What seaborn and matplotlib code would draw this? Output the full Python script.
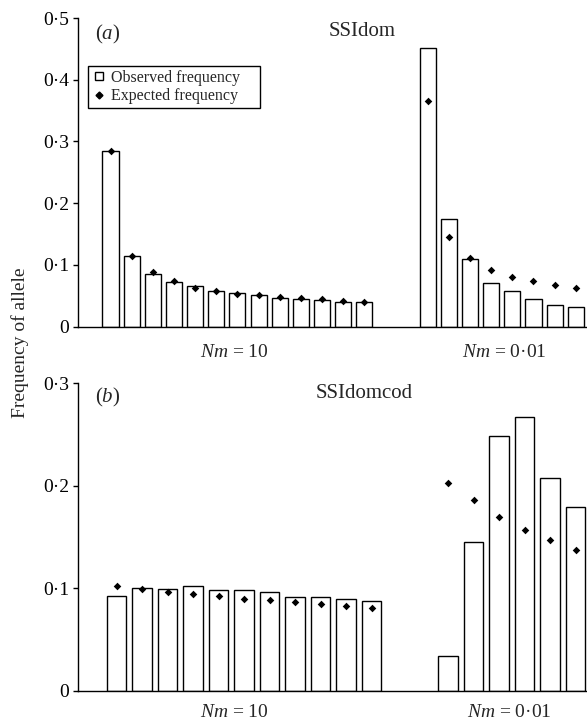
import numpy as np
import pandas as pd
import matplotlib
matplotlib.use("Agg")
import matplotlib.pyplot as plt
from matplotlib.lines import Line2D
import seaborn as sns

# (a) SSIdom
a_obs_nm10 = [0.285, 0.115, 0.085, 0.072, 0.065, 0.058, 0.054, 0.051, 0.047, 0.044, 0.043, 0.040, 0.040]
a_exp_nm10 = [0.284, 0.115, 0.088, 0.074, 0.062, 0.057, 0.053, 0.051, 0.048, 0.046, 0.044, 0.041, 0.040]
a_obs_nm001 = [0.452, 0.174, 0.109, 0.070, 0.057, 0.044, 0.035, 0.032]
a_exp_nm001 = [0.366, 0.145, 0.111, 0.092, 0.081, 0.073, 0.067, 0.063]

# (b) SSIdomcod
b_obs_nm10 = [0.093, 0.100, 0.099, 0.1025, 0.0985, 0.098, 0.097, 0.0915, 0.0915, 0.090, 0.088]
b_exp_nm10 = [0.102, 0.099, 0.097, 0.0945, 0.093, 0.090, 0.089, 0.087, 0.085, 0.0825, 0.081]
b_obs_nm001 = [0.034, 0.145, 0.249, 0.267, 0.208, 0.179]
b_exp_nm001 = [0.203, 0.186, 0.170, 0.157, 0.147, 0.137]

a_ticks = [0, 0.1, 0.2, 0.3, 0.4, 0.5]
a_ticklabels = ["0", "0·1", "0·2", "0·3", "0·4", "0·5"]
b_ticks = [0, 0.1, 0.2, 0.3]
b_ticklabels = ["0", "0·1", "0·2", "0·3"]
group_labels = [r"$Nm$ = 10", r"$Nm$ = 0·01"]

sns.set_theme(style="white")
plt.rcParams["font.family"] = ["Liberation Serif", "DejaVu Serif"]
plt.rcParams["mathtext.fontset"] = "custom"
plt.rcParams["mathtext.rm"] = "Liberation Serif"
plt.rcParams["mathtext.it"] = "Liberation Serif:italic"


def draw_panel(ax, obs_l, exp_l, obs_r, exp_r, gap):
    n = len(obs_l)
    pos = list(range(n)) + list(range(n + gap, n + gap + len(obs_r)))
    df = pd.DataFrame({"pos": pos, "obs": obs_l + obs_r, "exp": exp_l + exp_r})
    sns.barplot(data=df, x="pos", y="obs", native_scale=True, width=0.76,
                color="white", edgecolor="black", linewidth=1, errorbar=None,
                ax=ax)
    sns.scatterplot(data=df, x="pos", y="exp", marker="D", s=15, color="black",
                    linewidth=0, ax=ax, zorder=3)
    ax.set_xticks([])
    ax.set_xlabel("")
    ax.set_ylabel("")
    sns.despine(ax=ax)
    for s in ["left", "bottom"]:
        ax.spines[s].set_color("black")
        ax.spines[s].set_linewidth(1)
    ax.tick_params(axis="y", left=True, direction="out", length=3.5, width=1,
                   pad=3, labelsize=14, colors="black")


fig = plt.figure(figsize=(5.87, 7.23), dpi=100)
ax_a = fig.add_axes([0.1329, 0.5484, 0.8671, 0.4267])
ax_b = fig.add_axes([0.1329, 0.0443, 0.8671, 0.4255])

draw_panel(ax_a, a_obs_nm10, a_exp_nm10, a_obs_nm001, a_exp_nm001, 2)
ax_a.set_xlim(-1.537, 22.53)
ax_a.set_ylim(0, 0.5)
ax_a.set_yticks(a_ticks)
ax_a.set_yticklabels(a_ticklabels)

draw_panel(ax_b, b_obs_nm10, b_exp_nm10, b_obs_nm001, b_exp_nm001, 2)
ax_b.set_xlim(-1.51, 18.45)
ax_b.set_ylim(0, 0.3)
ax_b.set_yticks(b_ticks)
ax_b.set_yticklabels(b_ticklabels)

# panel tags, titles and group labels
ax_a.text(0.058, 0.945, r"($a$)", transform=ax_a.transAxes, ha="center", va="center", fontsize=15)
ax_a.text(0.558, 0.955, "SSIdom", transform=ax_a.transAxes, ha="center", va="center", fontsize=15)
ax_b.text(0.058, 0.955, r"($b$)", transform=ax_b.transAxes, ha="center", va="center", fontsize=15)
ax_b.text(0.563, 0.968, "SSIdomcod", transform=ax_b.transAxes, ha="center", va="center", fontsize=15)

ax_a.text(0.308, -0.084, group_labels[0], transform=ax_a.transAxes, ha="center", va="center", fontsize=14)
ax_a.text(0.838, -0.084, group_labels[1], transform=ax_a.transAxes, ha="center", va="center", fontsize=14)
ax_b.text(0.308, -0.070, group_labels[0], transform=ax_b.transAxes, ha="center", va="center", fontsize=14)
ax_b.text(0.847, -0.070, group_labels[1], transform=ax_b.transAxes, ha="center", va="center", fontsize=14)

# trailing spaces widen the legend box to match the original frame
handles = [
    Line2D([], [], marker="s", markerfacecolor="white", markeredgecolor="black",
           markeredgewidth=1, markersize=6, linestyle="none", label="Observed frequency    "),
    Line2D([], [], marker="D", color="black", markersize=3.5, linestyle="none",
           label="Expected frequency    "),
]
leg = ax_a.legend(handles=handles, loc="upper left", bbox_to_anchor=(0.02, 0.845),
                  borderaxespad=0, fontsize=11.5, frameon=True, fancybox=False,
                  framealpha=1, edgecolor="black", handlelength=0.8,
                  handletextpad=0.4, borderpad=0.25, labelspacing=0.15)
leg.get_frame().set_linewidth(1)

fig.text(0.035, 1 - 343 / 723, "Frequency of allele", rotation=90, ha="center",
         va="center", fontsize=14)

fig.savefig("out.png", dpi=100)
